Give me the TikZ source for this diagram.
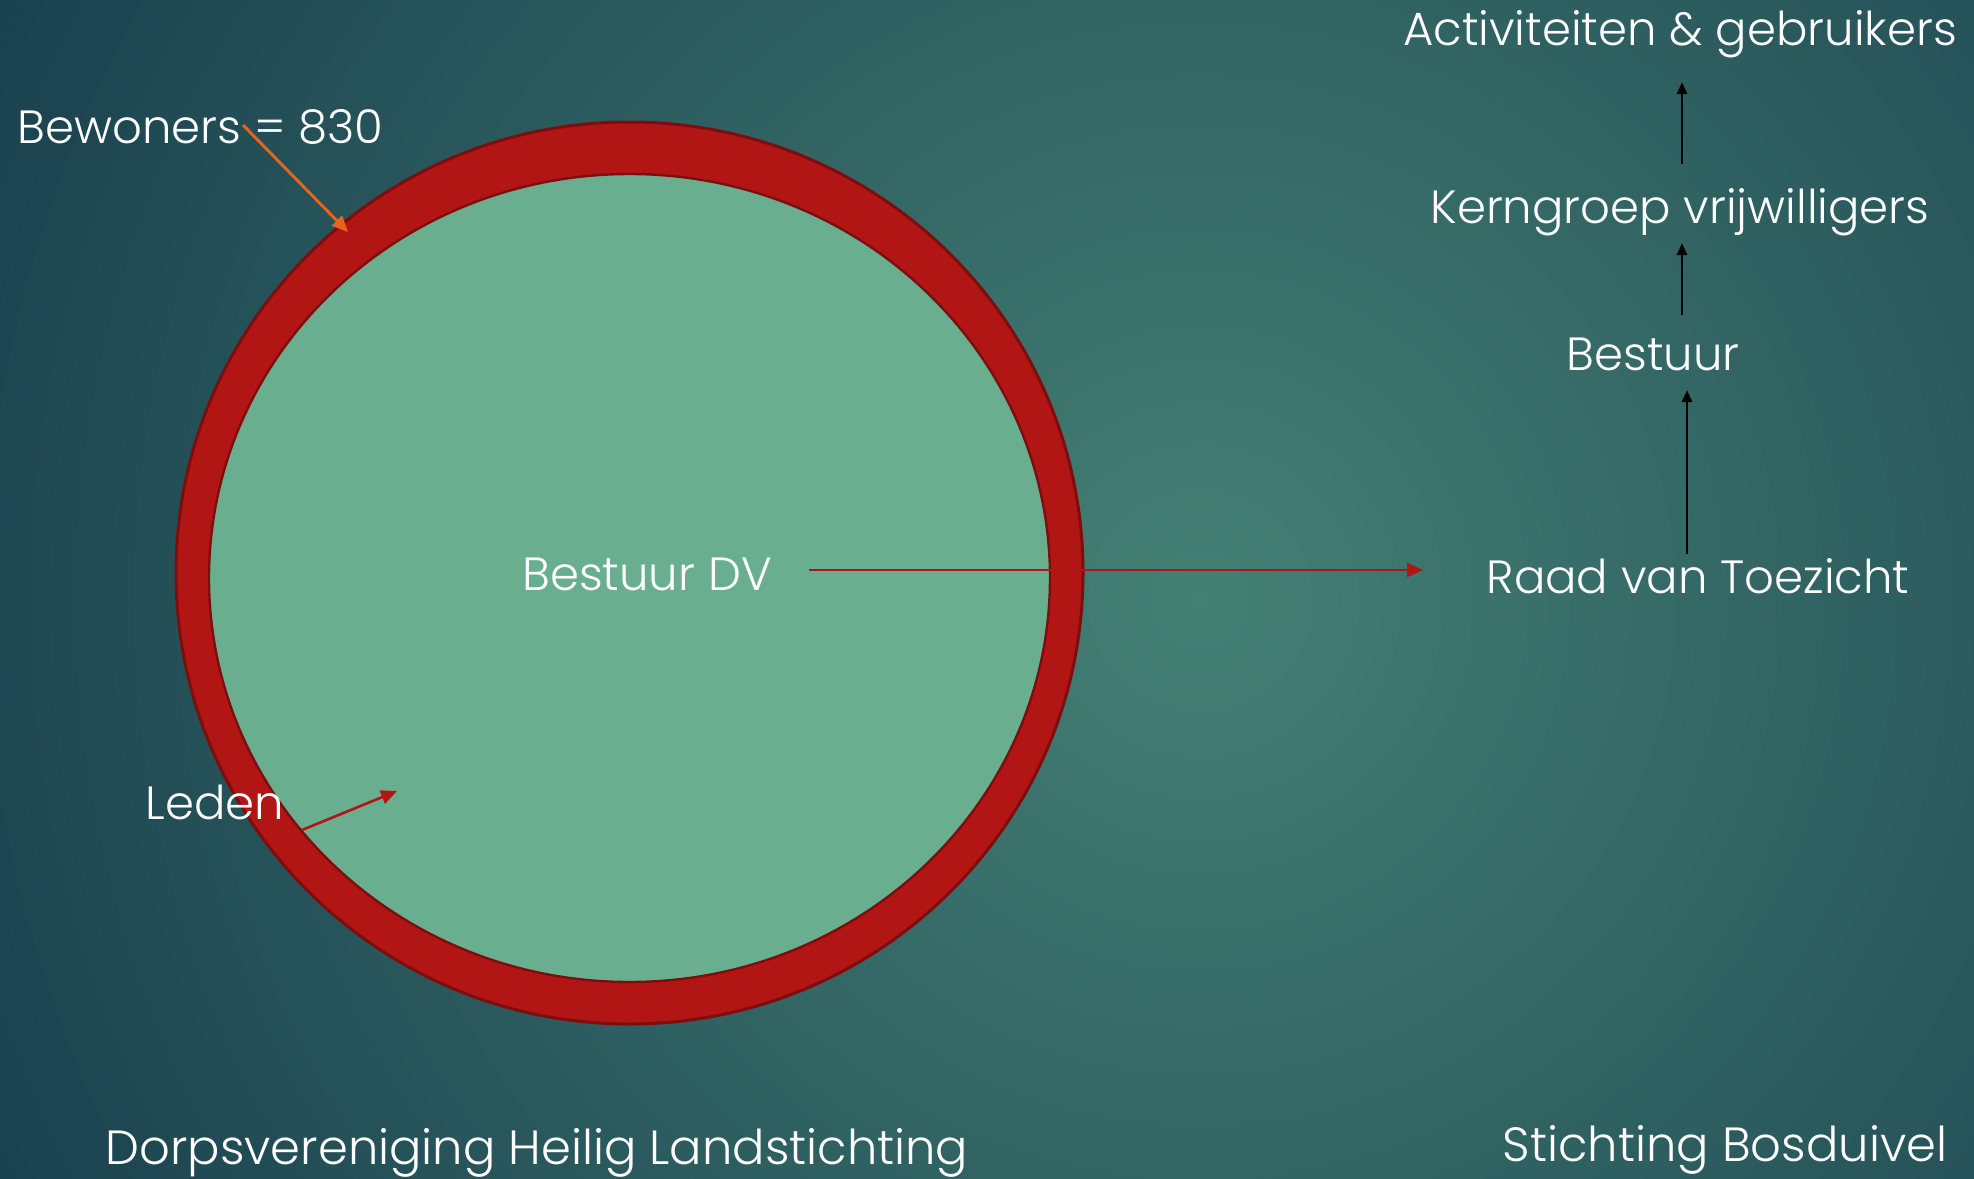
\documentclass[tikz,border=0pt]{standalone}
\usepackage{fontspec}
\setmainfont{Poppins}[UprightFont=* Light]
\usetikzlibrary{arrows.meta,shapes.geometric}

\definecolor{bgdark}{HTML}{15394A}
\definecolor{bglight}{HTML}{448074}
\definecolor{ringred}{HTML}{B11615}
\definecolor{ringedge}{HTML}{7E0E0E}
\definecolor{coregreen}{HTML}{6AAE90}
\definecolor{pijloranje}{HTML}{E4651B}

\tikzset{every picture/.style={line width=0.75pt},
	tekst/.style={text=white,inner sep=0pt,anchor=base,font=\fontsize{23.3}{28}\selectfont},
	voettekst/.style={tekst,font=\fontsize{24}{29}\selectfont},
	pijl/.style={line width=1.5pt,-{Triangle[length=8pt,width=7pt]}},
	zwartepijl/.style={line width=1.3pt,black,-{Triangle[length=6pt,width=5pt]}}}

\begin{document}
\begin{tikzpicture}[x=0.5pt,y=0.5pt,yscale=-1,xscale=1]
			\useasboundingbox (0,0) rectangle (1974,1178);
			%Background
			\begin{scope}
				\clip (0,0) rectangle (1974,1178);
				\shade[inner color=bglight,outer color=bgdark] (-300,-900) rectangle (2700,2100);
			\end{scope}

			%Shape: Ellipse [ring]
			\node[ellipse,draw=ringedge,line width=1.5pt,fill=ringred,minimum width=453.5pt,minimum height=451pt,inner sep=0pt] (ring) at (629.5,573) {};
			%Shape: Ellipse [kern]
			\node[ellipse,draw=ringedge,line width=1.2pt,fill=coregreen,minimum width=420.5pt,minimum height=404pt,inner sep=0pt] (kern) at (629.5,578) {};

			% Text Node
			\node[tekst,anchor=base west] (bewoners) at (17,143) {Bewoners = 830};
			% Text Node
			\node[tekst,anchor=base west] (leden) at (145,819) {Leden};
			% Text Node
			\node[tekst] (bestuurdv) at (647,590) {Bestuur DV};
			% Text Node
			\node[tekst] (raad) at (1698,593) {Raad van Toezicht};
			% Text Node
			\node[tekst] (bestuur) at (1653,370) {Bestuur};
			% Text Node
			\node[tekst] (kerngroep) at (1680,223) {Kerngroep vrijwilligers};
			% Text Node
			\node[tekst] (activiteiten) at (1680,45) {Activiteiten \& gebruikers};
			% Text Node
			\node[voettekst] (dorp) at (537,1164) {Dorpsvereniging Heilig Landstichting};
			% Text Node
			\node[voettekst] (bosduivel) at (1725,1161) {Stichting Bosduivel};

			%Arrow end points
			\coordinate (bew start) at (243,125);
			\coordinate (bew eind) at (348,232);
			\coordinate (leden start) at (302,830);
			\coordinate (leden eind) at (397,791);
			\coordinate (dv start) at (809,570);
			\coordinate (dv eind) at (1423,570);
			\coordinate (raad boven) at (1687,554);
			\coordinate (bestuur onder) at (1687,390);
			\coordinate (bestuur boven) at (1682,315);
			\coordinate (kern onder) at (1682,243);
			\coordinate (kern boven) at (1682,164);
			\coordinate (act onder) at (1682,82);

			%Straight Lines
			\draw[pijl,pijloranje] (bew start) -- (bew eind);
			\draw[pijl,ringred,line width=1.3pt] (leden start) -- (leden eind);
			\draw[pijl,ringred,line width=1.3pt] (dv start) -- (dv eind);
			\draw[zwartepijl] (raad boven) -- (bestuur onder);
			\draw[zwartepijl] (bestuur boven) -- (kern onder);
			\draw[zwartepijl] (kern boven) -- (act onder);

		\end{tikzpicture}
\end{document}
